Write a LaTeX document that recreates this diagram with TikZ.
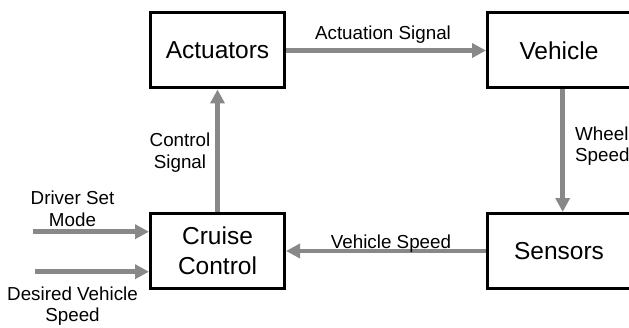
\documentclass[tikz,border=0pt]{standalone}
\usepackage{fontspec}
\setmainfont{Liberation Sans}
\usetikzlibrary{arrows.meta}
\definecolor{flowgray}{RGB}{136,136,136}
\tikzset{
  block/.style={draw=black, line width=3pt, fill=white, minimum width=134pt,
    minimum height=75pt, inner sep=0pt, align=center,
    font=\fontsize{24.5}{30}\selectfont},
  wideblock/.style={block, minimum width=143pt},
  flow/.style={draw=flowgray, line width=4.6pt,
    -{Triangle[length=14pt,width=14pt]}},
  lbl/.style={font=\fontsize{18.8}{21.5}\selectfont, inner sep=0pt, align=center},
}
\begin{document}
\begin{tikzpicture}[x=1pt,y=1pt]
  \useasboundingbox (0,0) rectangle (629,327);
  \clip (0,0) rectangle (629,327);

  % blocks of the loop
  \node[block]     (act) at (217.5,276.5) {Actuators};
  \node[wideblock] (veh) at (559,276.5)   {Vehicle};
  \node[block]     (cc)  at (217.5,76)    {Cruise\\Control};
  \node[wideblock] (sen) at (559,76)      {Sensors};

  % free ends of the driver inputs
  \coordinate (modein)  at (33,95.3);
  \coordinate (speedin) at (35,55.3);

  % signal flow
  \draw[flow] (act.east) -- (veh.west);
  \draw[flow] ([xshift=3.7pt]veh.south) -- ([xshift=3.7pt]sen.north);
  \draw[flow] (sen.west) -- (cc.east);
  \draw[flow] (cc.north) -- (act.south);
  \draw[flow] (modein) -- (modein -| cc.west);
  \draw[flow] (speedin) -- (speedin -| cc.west);

  % signal labels
  \node[lbl, anchor=base] (lact) at (383,287) {Actuation Signal};
  \node[lbl, anchor=base] (lvs)  at (391,79)  {Vehicle Speed};
  \node[lbl, anchor=west, align=left] (lws) at (575,181) {Wheel\\Speed};
  \node[lbl] (lcs)  at (180,174.3) {Control\\Signal};
  \node[lbl] (ldsm) at (72.5,118.3) {Driver Set\\Mode};
  \node[lbl] (ldvs) at (72.5,21)    {Desired Vehicle\\Speed};
\end{tikzpicture}
\end{document}
